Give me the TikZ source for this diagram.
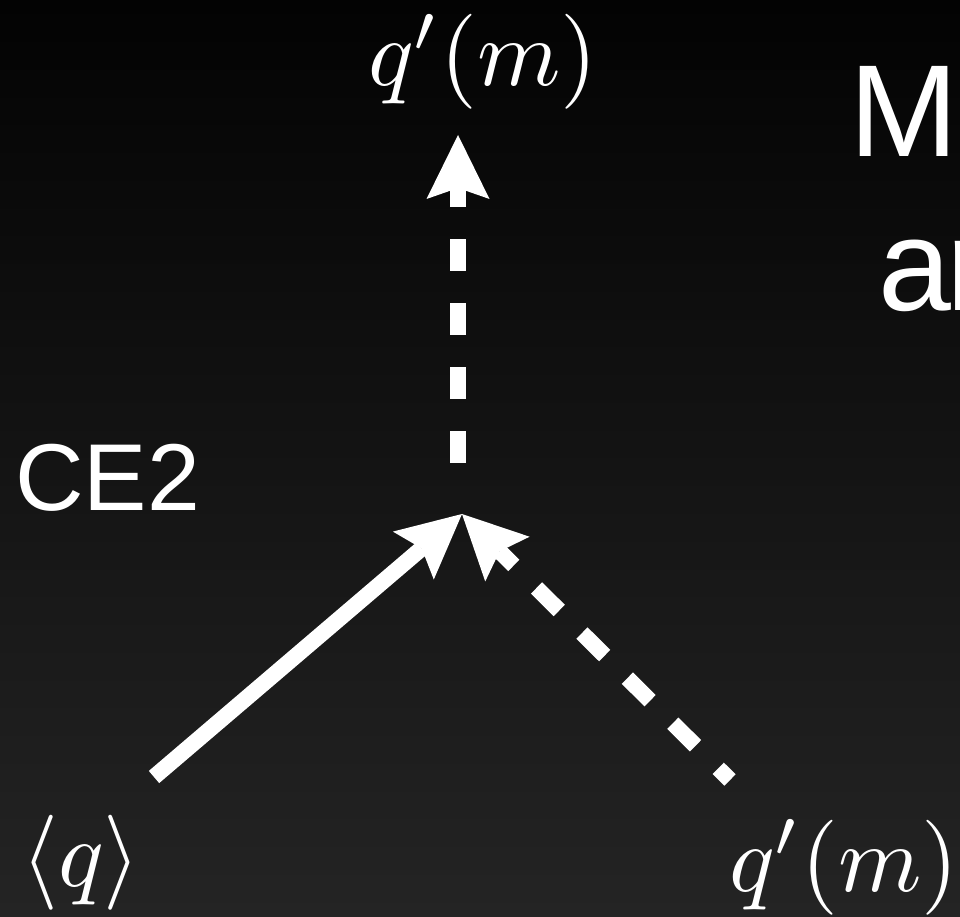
\documentclass[tikz,border=0pt]{standalone}
\usepackage{amsmath}
\usepackage{fontspec}
\newfontfamily\helv{Liberation Sans}
\usetikzlibrary{arrows.meta}
\definecolor{bgtop}{RGB}{3,3,3}
\definecolor{bgbottom}{RGB}{36,36,36}

\begin{document}
\begin{tikzpicture}[
  x=1pt, y=1pt,
  >={Stealth[length=64pt, width=63pt, inset=11pt, line width=0pt]},
  mathlabel/.style={text=white, inner sep=0pt, anchor=base, scale=9.5, transform shape},
  sanslabel/.style={text=white, inner sep=0pt, anchor=base west},
  flowarrow/.style={white, line width=16pt},
  dashedflow/.style={flowarrow, dash pattern=on 32pt off 32pt},
]
  % Dark gradient background
  \shade[top color=bgtop, bottom color=bgbottom] (0,0) rectangle (960,916);
  \useasboundingbox (0,0) rectangle (960,916);

  % Quantities
  \node[mathlabel] (qtop) at (483,830) {$q'(m)$};
  \node[mathlabel] (qavg) at (81,30) {$\langle q\rangle$};
  \node[mathlabel] (qbot) at (844,25) {$q'(m)$};
  \node[sanslabel, font=\helv\fontsize{95}{114}\selectfont] (ce) at (15,405) {CE2};

  % Heading, cut off at the right edge
  \node[sanslabel, font=\helv\fontsize{131}{154}\selectfont] (headM) at (849,759) {M};
  \node[sanslabel, font=\helv\fontsize{131}{154}\selectfont] (headA) at (878,605) {a\kern-5pt n};
  \node[sanslabel, font=\helv\fontsize{131}{154}\selectfont] (headC) at (967,437) {c};

  % Arrow ends
  \coordinate (meet) at (462,402);
  \coordinate (tailL) at (154,139);
  \coordinate (tailR) at (730,136);
  \coordinate (tailU) at (458,453);
  \coordinate (tipU) at (458,781);

  % Arrows
  \draw[flowarrow, ->] (tailL) -- (meet);
  \draw[dashedflow, dash phase=12pt, <-] (meet) -- (tailR);
  \draw[dashedflow, ->] (tailU) -- (tipU);
\end{tikzpicture}
\end{document}
